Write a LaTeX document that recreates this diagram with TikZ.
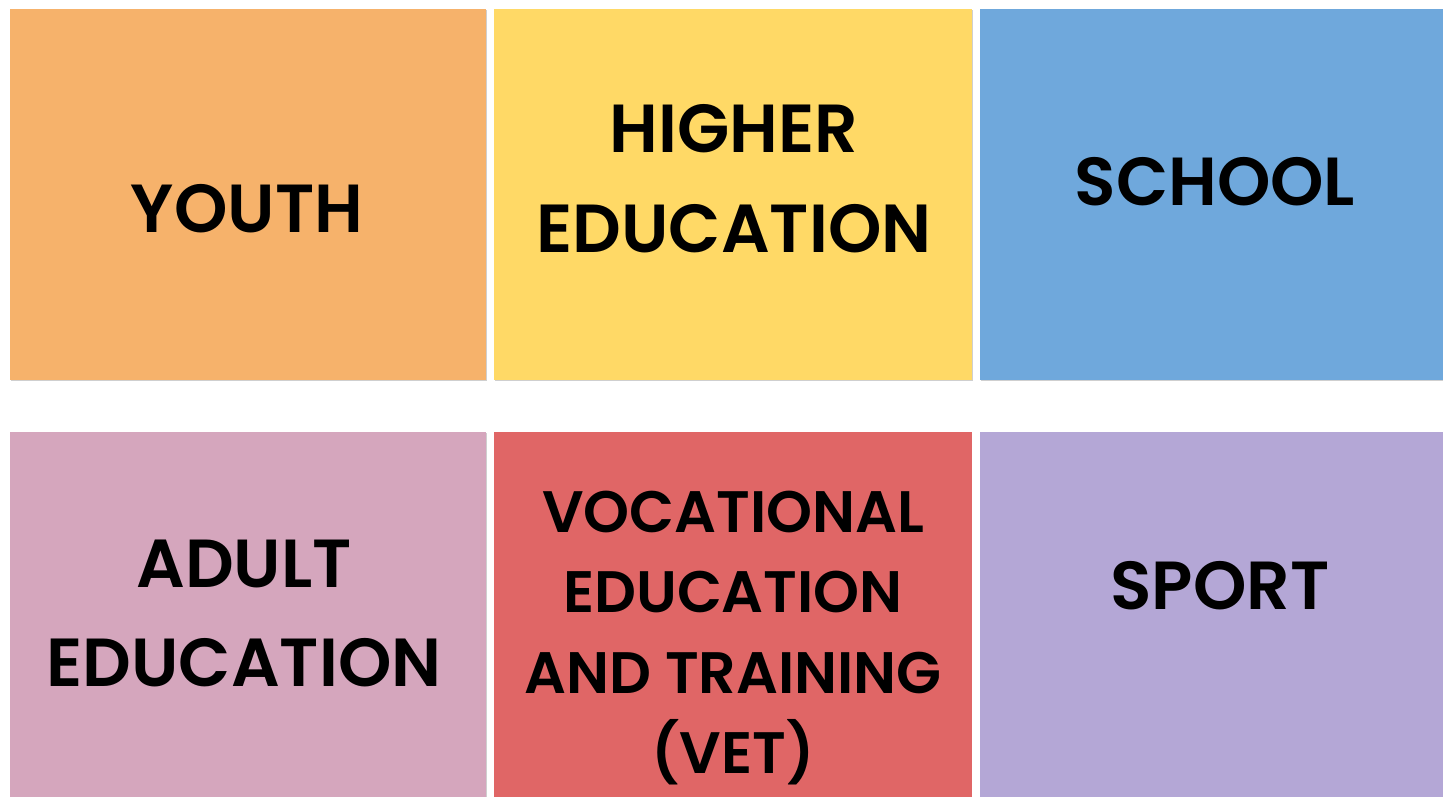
\documentclass[tikz,border=0pt]{standalone}
\usepackage{fontspec}
\setmainfont{Poppins}[BoldFont={Poppins SemiBold}]
\definecolor{cOrange}{HTML}{F6B26B}
\definecolor{cYellow}{HTML}{FFD966}
\definecolor{cBlue}{HTML}{6FA8DC}
\definecolor{cPink}{HTML}{D5A6BD}
\definecolor{cRed}{HTML}{E06666}
\definecolor{cPurple}{HTML}{B4A7D6}
\definecolor{cShade}{HTML}{CFCFCF}
\tikzset{
  tile/.style={fill=#1, draw=none},
  shade line/.style={draw=cShade, line width=1.2pt},
  big/.style={anchor=base, inner sep=0pt, font=\fontsize{68}{68}\selectfont\bfseries},
  small/.style={anchor=base, inner sep=0pt, font=\fontsize{58.5}{58.5}\selectfont\bfseries},
}
\begin{document}
\begin{tikzpicture}[x=1pt,y=-1pt]
\useasboundingbox (0,0) rectangle (1443,797);
\fill[white] (0,0) rectangle (1443,797);
\draw[shade line] (11,380.6) -- (486.6,380.6) -- (486.6,10);
\draw[shade line] (495,380.6) -- (972.6,380.6) -- (972.6,10);
\draw[shade line] (981,380.6) -- (1443,380.6);
\draw[shade line] (486.6,433) -- (486.6,797);
\fill[tile=cOrange] (10,9) rectangle (486,380);
\fill[tile=cYellow] (494,9) rectangle (972,380);
\fill[tile=cBlue] (980,9) rectangle (1443,380);
\fill[tile=cPink] (10,432) rectangle (486,797);
\fill[tile=cRed] (494,432) rectangle (972,797);
\fill[tile=cPurple] (980,432) rectangle (1443,797);
\node[big] (youth) at (247,232) {YOUTH};
\node[big] (he1) at (734,153) {HIGHER};
\node[big] (he2) at (734,252) {EDUCATION};
\node[big] (school) at (1215,205) {SCHOOL};
\node[big] (ae1) at (244,587) {ADULT};
\node[big] (ae2) at (244,686) {EDUCATION};
\node[small] (v1) at (733,532) {VOCATIONAL};
\node[small] (v2) at (733,612) {EDUCATION};
\node[small] (v3) at (733,693) {AND TRAINING};
\node[small] (v4) at (733,773) {(VET)};
\node[big] (sport) at (1220,609) {SPORT};
\end{tikzpicture}
\end{document}
